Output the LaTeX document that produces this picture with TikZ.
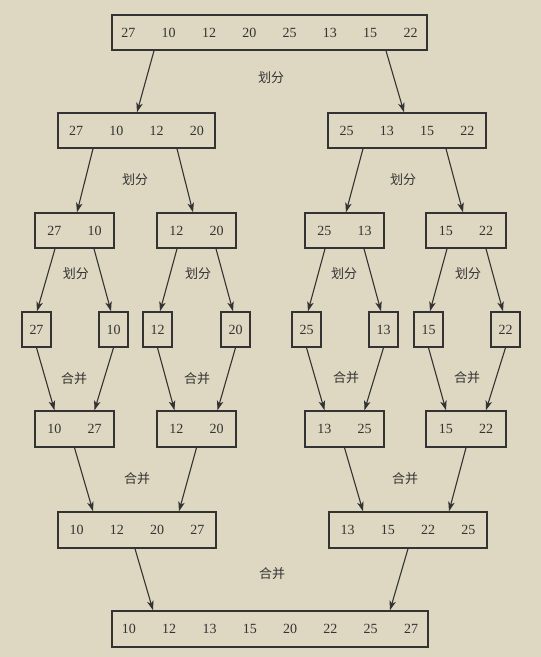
\documentclass[tikz,border=0pt]{standalone}
\usepackage{fontspec}
\setmainfont{Liberation Serif}
\newfontfamily\cjk{Noto Sans CJK SC}
\usetikzlibrary{arrows.meta}
\definecolor{bg}{HTML}{DED7C1}
\definecolor{ink}{HTML}{333333}
\newcommand{\gp}{\hspace{26.3pt}}
\begin{document}
\begin{tikzpicture}[x=1pt,y=-1pt,
 box/.style={draw=ink, line width=1.5pt, rectangle, inner sep=0pt, minimum height=35pt, text=ink, font=\fontsize{14}{14}\selectfont},
 arr/.style={draw=ink, line width=1.1pt, -{Stealth[length=9.5pt,width=6.5pt,inset=2.5pt]}},
 lbl/.style={text=ink, font=\cjk\fontsize{13}{13}\selectfont}]
\fill[bg] (0,0) rectangle (541,657);
\useasboundingbox (0,0) rectangle (541,657);
% level 1
\node[box, minimum width=315pt] (top) at (269.5,32.5) {27\gp10\gp12\gp20\gp25\gp13\gp15\gp22};
% level 2
\node[box, minimum width=157pt] (l2a) at (136.5,130.5) {27\gp10\gp12\gp20};
\node[box, minimum width=158pt] (l2b) at (407,130.5) {25\gp13\gp15\gp22};
% level 3
\node[box, minimum width=79pt] (l3a) at (74.5,230.5) {27\gp10};
\node[box, minimum width=79pt] (l3b) at (196.5,230.5) {12\gp20};
\node[box, minimum width=79pt] (l3c) at (344.5,230.5) {25\gp13};
\node[box, minimum width=80pt] (l3d) at (466,230.5) {15\gp22};
% level 4
\node[box, minimum width=29pt] (f1) at (36.5,329.5) {27};
\node[box, minimum width=29pt] (f2) at (113.5,329.5) {10};
\node[box, minimum width=29pt] (f3) at (157.5,329.5) {12};
\node[box, minimum width=29pt] (f4) at (235.5,329.5) {20};
\node[box, minimum width=29pt] (f5) at (306.5,329.5) {25};
\node[box, minimum width=29pt] (f6) at (383.5,329.5) {13};
\node[box, minimum width=29pt] (f7) at (428.5,329.5) {15};
\node[box, minimum width=29pt] (f8) at (505.5,329.5) {22};
% level 5
\node[box, minimum width=79pt, minimum height=36pt] (m1) at (74.5,429) {10\gp27};
\node[box, minimum width=79pt, minimum height=36pt] (m2) at (196.5,429) {12\gp20};
\node[box, minimum width=79pt, minimum height=36pt] (m3) at (344.5,429) {13\gp25};
\node[box, minimum width=80pt, minimum height=36pt] (m4) at (466,429) {15\gp22};
% level 6
\node[box, minimum width=158pt, minimum height=36pt] (n1) at (137,530) {10\gp12\gp20\gp27};
\node[box, minimum width=158pt, minimum height=36pt] (n2) at (408,530) {13\gp15\gp22\gp25};
% level 7
\node[box, minimum width=316pt, minimum height=36pt] (res) at (270,629) {10\gp12\gp13\gp15\gp20\gp22\gp25\gp27};
% labels
\node[lbl] (d1) at (271,78) {划分};
\node[lbl] (d2) at (135,180) {划分};
\node[lbl] (d3) at (403,180) {划分};
\node[lbl] (d4) at (76,274) {划分};
\node[lbl] (d5) at (198,274) {划分};
\node[lbl] (d6) at (344,274) {划分};
\node[lbl] (d7) at (468,274) {划分};
\node[lbl] (h1) at (74,379) {合并};
\node[lbl] (h2) at (197,379) {合并};
\node[lbl] (h3) at (346,378) {合并};
\node[lbl] (h4) at (467,378) {合并};
\node[lbl] (h5) at (137,479) {合并};
\node[lbl] (h6) at (405,479) {合并};
\node[lbl] (h7) at (272,574) {合并};
% split arrows
\draw[arr] ([xshift=-115.5pt]top.south) -- ([xshift=0.5pt]l2a.north);
\draw[arr] ([xshift=116.5pt]top.south) -- ([xshift=-3pt]l2b.north);
\draw[arr] ([xshift=-43.5pt]l2a.south) -- ([xshift=2.5pt]l3a.north);
\draw[arr] ([xshift=40.5pt]l2a.south) -- ([xshift=-3.5pt]l3b.north);
\draw[arr] ([xshift=-44pt]l2b.south) -- ([xshift=1.5pt]l3c.north);
\draw[arr] ([xshift=39pt]l2b.south) -- ([xshift=-3pt]l3d.north);
\draw[arr] ([xshift=-19.5pt]l3a.south) -- ([xshift=0.5pt]f1.north);
\draw[arr] ([xshift=19.5pt]l3a.south) -- ([xshift=-2.5pt]f2.north);
\draw[arr] ([xshift=-19.5pt]l3b.south) -- ([xshift=2.5pt]f3.north);
\draw[arr] ([xshift=19.5pt]l3b.south) -- ([xshift=-2.5pt]f4.north);
\draw[arr] ([xshift=-19.5pt]l3c.south) -- ([xshift=1.5pt]f5.north);
\draw[arr] ([xshift=19.5pt]l3c.south) -- ([xshift=-2.5pt]f6.north);
\draw[arr] ([xshift=-19pt]l3d.south) -- ([xshift=1.5pt]f7.north);
\draw[arr] ([xshift=20pt]l3d.south) -- ([xshift=-2.5pt]f8.north);
% merge arrows
\draw[arr] (f1.south) -- ([xshift=-20pt]m1.north);
\draw[arr] (f2.south) -- ([xshift=20pt]m1.north);
\draw[arr] (f3.south) -- ([xshift=-22pt]m2.north);
\draw[arr] (f4.south) -- ([xshift=21pt]m2.north);
\draw[arr] (f5.south) -- ([xshift=-20pt]m3.north);
\draw[arr] (f6.south) -- ([xshift=20pt]m3.north);
\draw[arr] (f7.south) -- ([xshift=-20pt]m4.north);
\draw[arr] (f8.south) -- ([xshift=20pt]m4.north);
\draw[arr] (m1.south) -- ([xshift=-44pt]n1.north);
\draw[arr] (m2.south) -- ([xshift=42pt]n1.north);
\draw[arr] (m3.south) -- ([xshift=-45pt]n2.north);
\draw[arr] (m4.south) -- ([xshift=41pt]n2.north);
\draw[arr] ([xshift=-2pt]n1.south) -- ([xshift=-117pt]res.north);
\draw[arr] (n2.south) -- ([xshift=120pt]res.north);
\end{tikzpicture}
\end{document}
